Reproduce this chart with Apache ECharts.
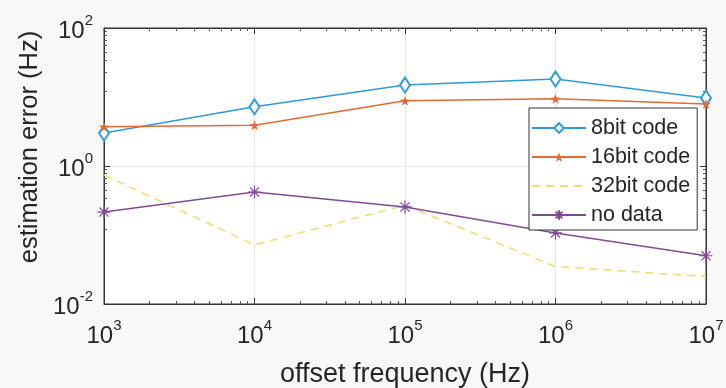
<!DOCTYPE html>
<html>
<head>
<meta charset="utf-8">
<script src="https://cdn.jsdelivr.net/npm/echarts@6/dist/echarts.min.js"></script>
<style>
html,body{margin:0;padding:0;background:#f8f8f8;}
#c{width:726px;height:388px;}
</style>
</head>
<body>
<div id="c"></div>
<script>
const freqs = [1e3, 1e4, 1e5, 1e6, 1e7];
const seriesNames = ['8bit code', '16bit code', '32bit code', 'no data'];
const bit8 = [3.0, 7.2, 14.9, 18.2, 9.7];
const bit16 = [3.7, 3.9, 8.8, 9.4, 7.9];
const bit32 = [0.74, 0.072, 0.27, 0.035, 0.025];
const noData = [0.215, 0.42, 0.255, 0.107, 0.05];
const xTitle = 'offset frequency (Hz)';
const yTitle = 'estimation error (Hz)';

const pair = (arr) => freqs.map((f, i) => [f, arr[i]]);
const FONT = 'Liberation Sans, Arial, sans-serif';
const TXT = '#262626';
const supLabel = (v) => {
  const e = Math.round(Math.log10(v));
  return '{b|10}{s|' + e + '}';
};
const rich = {
  b: {fontSize: 24, fontFamily: FONT, color: TXT, lineHeight: 30, verticalAlign: 'bottom'},
  s: {fontSize: 15, fontFamily: FONT, color: TXT, lineHeight: 16, verticalAlign: 'top'}
};
const star = 'path://M0,-10L2.35,-3.24L9.51,-3.09L3.8,1.24L5.88,8.09L0,4L-5.88,8.09L-3.8,1.24L-9.51,-3.09L-2.35,-3.24Z';
const asterisk = 'path://M0,-10L0,10M-10,0L10,0M-7,-7L7,7M-7,7L7,-7';

const frameAxis = (extra) => Object.assign({
  type: 'log', logBase: 10,
  axisLine: {show: true, lineStyle: {color: '#333'}},
  axisTick: {show: true, inside: true, length: 6, lineStyle: {color: '#333'}},
  minorTick: {show: true, splitNumber: 9, length: 3, lineStyle: {color: '#555'}},
  axisLabel: {show: false},
  splitLine: {show: false}
}, extra);

const chart = echarts.init(document.getElementById('c'));
chart.setOption({
  backgroundColor: '#f8f8f8',
  animation: false,
  grid: {left: 104, right: 20, top: 28, bottom: 84, containLabel: false, outerBoundsMode: 'none',
         show: true, backgroundColor: '#ffffff', borderColor: '#333', borderWidth: 1},
  xAxis: [
    frameAxis({
      min: 1e3, max: 1e7, interval: 1,
      name: xTitle, nameLocation: 'middle', nameGap: 57,
      nameTextStyle: {fontSize: 27, fontFamily: FONT, color: TXT},
      splitLine: {show: true, lineStyle: {color: '#e6e6e6'}},
      axisLabel: {show: true, formatter: supLabel, rich: rich, margin: 14}
    }),
    frameAxis({position: 'top', min: 1e3, max: 1e7, interval: 1})
  ],
  yAxis: [
    frameAxis({
      min: 0.01, max: 100, interval: 2,
      splitLine: {show: true, lineStyle: {color: '#e6e6e6'}},
      axisLabel: {show: true, formatter: supLabel, rich: rich, margin: 11}
    }),
    frameAxis({position: 'right', min: 0.01, max: 100, interval: 2})
  ],
  graphic: [{
    type: 'text', x: 30, y: 147, rotation: Math.PI / 2,
    style: {text: yTitle, fontSize: 25.5, fontFamily: FONT, fill: TXT, align: 'center', verticalAlign: 'middle'}
  }],
  legend: {
    orient: 'vertical', left: 529, top: 108,
    padding: [9, 7, 4, 2], itemGap: 7, itemWidth: 54, itemHeight: 12,
    borderColor: '#333', borderWidth: 1, backgroundColor: '#ffffff',
    textStyle: {fontSize: 21.5, fontFamily: FONT, color: TXT},
    data: [
      {name: seriesNames[0]},
      {name: seriesNames[1]},
      {name: seriesNames[2], itemStyle: {color: 'rgba(0,0,0,0)', borderColor: 'rgba(0,0,0,0)', borderWidth: 0}},
      {name: seriesNames[3]}
    ]
  },
  series: [
    {name: seriesNames[0], type: 'line', data: pair(bit8), symbol: 'emptyDiamond', symbolSize: [10, 15],
     lineStyle: {color: '#2e9bd8', width: 1.5}, itemStyle: {color: '#2e9bd8', borderWidth: 1.2}},
    {name: seriesNames[1], type: 'line', data: pair(bit16), symbol: star, symbolSize: 10,
     lineStyle: {color: '#e46a34', width: 1.5}, itemStyle: {color: '#e46a34'}},
    {name: seriesNames[2], type: 'line', data: pair(bit32), symbol: 'none', showSymbol: false,
     lineStyle: {color: '#e8df6e', width: 1.5, type: [8, 6]}, itemStyle: {color: '#e8df6e'}},
    {name: seriesNames[3], type: 'line', data: pair(noData), symbol: asterisk, symbolSize: 13,
     lineStyle: {color: '#834a94', width: 1.5}, itemStyle: {color: 'rgba(0,0,0,0)', borderColor: '#834a94', borderWidth: 1.2}}
  ]
});
</script>
</body>
</html>
